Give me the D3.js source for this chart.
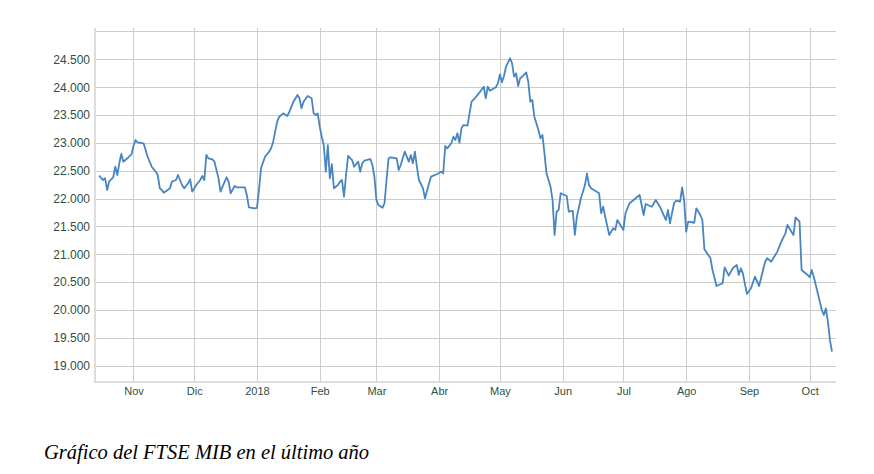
<!DOCTYPE html>
<html>
<head>
<meta charset="utf-8">
<script src="https://cdn.jsdelivr.net/npm/d3@7"></script>
<style>
  html, body { margin: 0; padding: 0; background: #fff; }
  svg { display: block; }
</style>
</head>
<body>
<svg id="chart" width="874" height="474"></svg>
<script>
// ---- Data ----
const dates = [
  "2017-10-15","2017-10-17","2017-10-18","2017-10-19","2017-10-20","2017-10-21","2017-10-22","2017-10-23","2017-10-24","2017-10-25","2017-10-26","2017-10-27","2017-10-29","2017-10-31",
  "2017-11-01","2017-11-02","2017-11-03","2017-11-06","2017-11-08","2017-11-10","2017-11-12","2017-11-13","2017-11-14","2017-11-15","2017-11-16","2017-11-19","2017-11-20","2017-11-22","2017-11-23","2017-11-24","2017-11-25","2017-11-26","2017-11-28","2017-11-29","2017-11-30",
  "2017-12-02","2017-12-04","2017-12-05","2017-12-06","2017-12-07","2017-12-08","2017-12-10","2017-12-11","2017-12-13","2017-12-14","2017-12-15","2017-12-17","2017-12-18","2017-12-19","2017-12-21","2017-12-22","2017-12-26","2017-12-27","2017-12-28","2017-12-31",
  "2018-01-01","2018-01-02","2018-01-03","2018-01-05","2018-01-07","2018-01-08","2018-01-09","2018-01-11","2018-01-12","2018-01-14","2018-01-16","2018-01-17","2018-01-19","2018-01-21","2018-01-22","2018-01-23","2018-01-24","2018-01-26","2018-01-28","2018-01-29","2018-01-30","2018-01-31",
  "2018-02-01","2018-02-02","2018-02-03","2018-02-04","2018-02-05","2018-02-06","2018-02-07","2018-02-08","2018-02-10","2018-02-11","2018-02-12","2018-02-13","2018-02-14","2018-02-15","2018-02-17","2018-02-18","2018-02-20","2018-02-21","2018-02-22","2018-02-23","2018-02-26","2018-02-27","2018-02-28",
  "2018-03-01","2018-03-02","2018-03-04","2018-03-05","2018-03-06","2018-03-07","2018-03-08","2018-03-11","2018-03-12","2018-03-13","2018-03-15","2018-03-17","2018-03-18","2018-03-19","2018-03-20","2018-03-21","2018-03-22","2018-03-24","2018-03-25","2018-03-27","2018-03-28","2018-03-31",
  "2018-04-02","2018-04-03","2018-04-04","2018-04-05","2018-04-07","2018-04-08","2018-04-09","2018-04-10","2018-04-11","2018-04-12","2018-04-13","2018-04-15","2018-04-16","2018-04-17","2018-04-19","2018-04-21","2018-04-23","2018-04-24","2018-04-25","2018-04-26","2018-04-29","2018-04-30",
  "2018-05-01","2018-05-02","2018-05-03","2018-05-04","2018-05-06","2018-05-07","2018-05-08","2018-05-09","2018-05-10","2018-05-11","2018-05-12","2018-05-14","2018-05-15","2018-05-16","2018-05-17","2018-05-18","2018-05-19","2018-05-20","2018-05-21","2018-05-22","2018-05-23","2018-05-24","2018-05-26","2018-05-27","2018-05-28","2018-05-29","2018-05-30","2018-05-31",
  "2018-06-03","2018-06-04","2018-06-06","2018-06-07","2018-06-08","2018-06-10","2018-06-11","2018-06-12","2018-06-13","2018-06-14","2018-06-15","2018-06-19","2018-06-20","2018-06-21","2018-06-22","2018-06-24","2018-06-26","2018-06-27","2018-06-28",
  "2018-07-01","2018-07-02","2018-07-04","2018-07-05","2018-07-09","2018-07-11","2018-07-12","2018-07-15","2018-07-17","2018-07-19","2018-07-22","2018-07-23","2018-07-24","2018-07-26","2018-07-27","2018-07-29","2018-07-30","2018-07-31",
  "2018-08-01","2018-08-02","2018-08-05","2018-08-06","2018-08-08","2018-08-09","2018-08-10","2018-08-13","2018-08-14","2018-08-16","2018-08-19","2018-08-20","2018-08-22","2018-08-24","2018-08-26","2018-08-27","2018-08-28","2018-08-29","2018-08-31",
  "2018-09-02","2018-09-04","2018-09-06","2018-09-09","2018-09-10","2018-09-12","2018-09-15","2018-09-17","2018-09-19","2018-09-20","2018-09-22","2018-09-23","2018-09-24","2018-09-26","2018-09-27","2018-09-30",
  "2018-10-01","2018-10-02","2018-10-03","2018-10-05","2018-10-07","2018-10-08","2018-10-09","2018-10-10","2018-10-11","2018-10-12"
];
const values = [
  22411,22333,22364,22154,22303,22346,22382,22572,22423,22633,22800,22662,22723,22794,
  22944,23052,23010,22992,22751,22572,22482,22423,22184,22154,22106,22184,22303,22333,22423,22333,22243,22184,22274,22346,22123,
  22243,22333,22405,22333,22782,22723,22705,22662,22363,22123,22213,22382,22303,22095,22225,22202,22202,22064,21843,21825,
  21833,22154,22543,22751,22842,22902,23021,23380,23470,23530,23482,23559,23739,23859,23800,23620,23739,23841,23800,23530,23500,23530,
  23290,23110,22962,22482,22961,22364,22616,22184,22243,22303,22333,22033,22423,22764,22692,22572,22662,22482,22633,22680,22710,22603,22393,
  21975,21885,21836,21915,22333,22723,22741,22723,22513,22603,22842,22662,22782,22633,22842,22572,22333,22184,22005,22274,22393,22441,
  22482,22453,22944,22902,22992,23110,23052,23172,23003,23262,23320,23308,23530,23739,23817,23908,24009,23800,24009,23936,23998,24069,
  24230,24087,24200,24367,24518,24429,24188,24248,24021,24159,24188,24266,24098,23739,23769,23470,23351,23231,23082,23141,22812,22453,22213,21975,21346,21764,21795,22095,
  22046,21764,21777,21346,21675,22005,22123,22243,22453,22243,22184,22095,21736,21854,21675,21346,21467,21437,21615,
  21436,21736,21915,21944,22064,21705,21903,21854,21975,21854,21615,21795,21556,21915,21962,21944,22200,21962,
  21405,21585,21566,21825,21705,21615,21089,20928,20718,20430,20479,20766,20616,20748,20808,20628,20748,20658,20287,
  20390,20598,20430,20866,20928,20866,21047,21226,21376,21526,21405,21346,21664,21585,20718,20628,
  20587,20718,20598,20300,20000,19910,20030,19790,19462,19252
];
const xTickDates = ["2017-11-01","2017-12-01","2018-01-01","2018-02-01","2018-03-01","2018-04-01","2018-05-01","2018-06-01","2018-07-01","2018-08-01","2018-09-01","2018-10-01"];
const xTickLabels = ["Nov","Dic","2018","Feb","Mar","Abr","May","Jun","Jul","Ago","Sep","Oct"];
const yTickValues = [19000,19500,20000,20500,21000,21500,22000,22500,23000,23500,24000,24500];
const yGridValues = [19000,19500,20000,20500,21000,21500,22000,22500,23000,23500,24000,24500,25000];
const caption = "Gráfico del FTSE MIB en el último año";

// ---- Chart ----
const parse = d3.timeParse("%Y-%m-%d");
const data = dates.map((d, i) => ({ date: parse(d), value: values[i] }));

const svg = d3.select("#chart");
const pLeft = 95, pRight = 836, pTop = 28, pBottom = 382;

const x = d3.scaleTime()
  .domain([parse("2017-10-13"), parse("2018-10-14")])
  .range([pLeft, pRight]);
const y = d3.scaleLinear()
  .domain([18707, 25062])
  .range([pBottom, pTop]);

const locale = d3.formatLocale({ decimal: ",", thousands: ".", grouping: [3], currency: ["", "€"] });
const fmt = locale.format(",.0f");

// gridlines
svg.append("g").selectAll("line").data(yGridValues).join("line")
  .attr("x1", pLeft).attr("x2", pRight)
  .attr("y1", d => Math.round(y(d)) + 0.5).attr("y2", d => Math.round(y(d)) + 0.5)
  .attr("stroke", "#cccccc").attr("stroke-width", 1);

const xTicks = xTickDates.map(parse);
svg.append("g").selectAll("line").data(xTicks).join("line")
  .attr("x1", d => Math.round(x(d)) + 0.5).attr("x2", d => Math.round(x(d)) + 0.5)
  .attr("y1", pTop).attr("y2", pBottom)
  .attr("stroke", "#cccccc").attr("stroke-width", 1);

// axes frame lines
svg.append("line").attr("x1", pLeft).attr("x2", pLeft).attr("y1", pTop).attr("y2", pBottom + 1)
  .attr("stroke", "#dddddd").attr("stroke-width", 2);
svg.append("line").attr("x1", pLeft - 1).attr("x2", pRight).attr("y1", pBottom).attr("y2", pBottom)
  .attr("stroke", "#dddddd").attr("stroke-width", 2);

// y axis labels
const yAxis = d3.axisLeft(y).tickValues(yTickValues).tickFormat(fmt).tickSize(0).tickPadding(5);
const gy = svg.append("g").attr("transform", `translate(${pLeft},0)`).call(yAxis);
gy.select(".domain").remove();
gy.selectAll("text")
  .attr("font-family", "Liberation Sans, Arial, sans-serif")
  .attr("font-size", 12)
  .attr("fill", "#2f5040");

// x axis labels
const xAxis = d3.axisBottom(x).tickValues(xTicks)
  .tickFormat((d, i) => xTickLabels[i]).tickSize(0).tickPadding(5);
const gx = svg.append("g").attr("transform", `translate(0,${pBottom})`).call(xAxis);
gx.select(".domain").remove();
gx.selectAll("text")
  .attr("font-family", "Liberation Sans, Arial, sans-serif")
  .attr("font-size", 11)
  .attr("fill", "#2f5040");

// line
const line = d3.line().x(d => x(d.date)).y(d => y(d.value));
svg.append("path").datum(data)
  .attr("d", line)
  .attr("fill", "none")
  .attr("stroke", "#4786c0")
  .attr("stroke-width", 1.8)
  .attr("stroke-linejoin", "round");

// caption
svg.append("text")
  .attr("x", 44).attr("y", 459)
  .attr("font-family", "Liberation Serif, Times New Roman, serif")
  .attr("font-style", "italic")
  .attr("font-size", 20.5)
  .attr("fill", "#000")
  .text(caption);
</script>
</body>
</html>
